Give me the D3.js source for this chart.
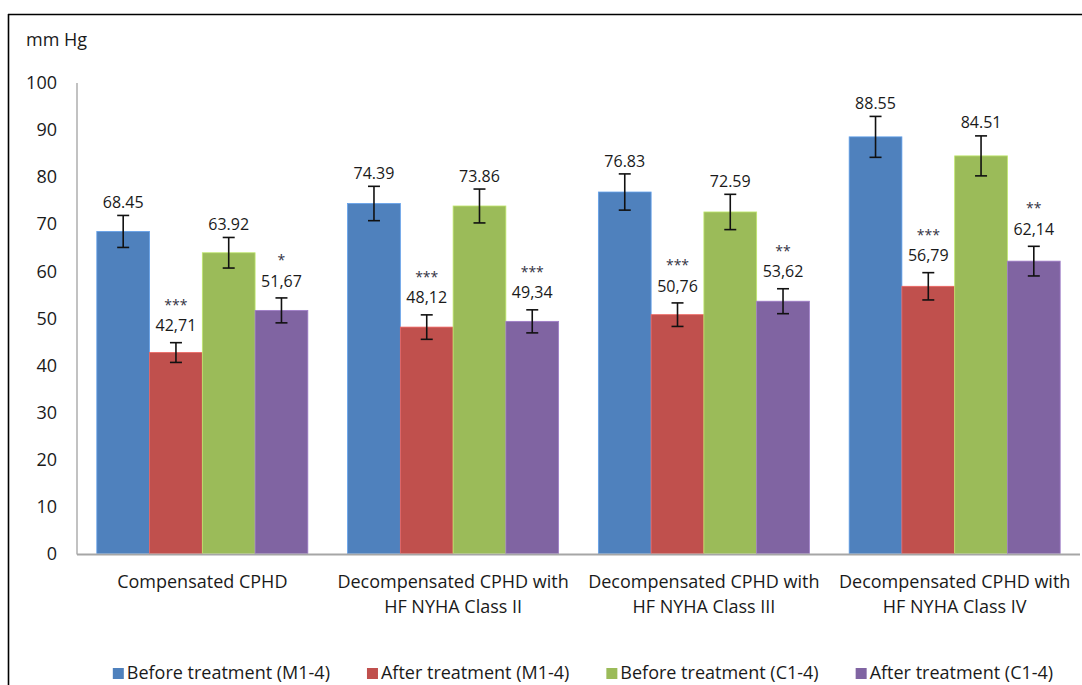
<!DOCTYPE html>
<html><head><meta charset="utf-8">
<script src="https://cdn.jsdelivr.net/npm/d3@7"></script>
<style>
body{margin:0;background:#fff;}
text{font-family:"Open Sans",sans-serif;}
</style></head>
<body><svg id="c" width="1082" height="685"></svg>
<script>
const categories = [
  ["Compensated CPHD"],
  ["Decompensated CPHD with","HF NYHA Class II"],
  ["Decompensated CPHD with","HF NYHA Class III"],
  ["Decompensated CPHD with","HF NYHA Class IV"]
];
const seriesNames = ["Before treatment (M1-4)","After treatment (M1-4)","Before treatment (C1-4)","After treatment (C1-4)"];
const seriesColors = ["#4F81BD","#C0504D","#9BBB59","#8064A2"];
const beforeM = [68.45, 74.39, 76.83, 88.55];
const afterM  = [42.71, 48.12, 50.76, 56.79];
const beforeC = [63.92, 73.86, 72.59, 84.51];
const afterC  = [51.67, 49.34, 53.62, 62.14];
const errBeforeM = [3.4, 3.65, 3.85, 4.35];
const errAfterM  = [2.1, 2.6, 2.5, 2.9];
const errBeforeC = [3.25, 3.6, 3.75, 4.25];
const errAfterC  = [2.65, 2.45, 2.65, 3.15];
const starsAfterM = ["***","***","***","***"];
const starsAfterC = ["*","***","**","**"];
const yTicks = [0,10,20,30,40,50,60,70,80,90,100];
const yUnit = "mm Hg";

const series = [
  {name:seriesNames[0], color:seriesColors[0], values:beforeM, err:errBeforeM, stars:null, sep:"."},
  {name:seriesNames[1], color:seriesColors[1], values:afterM, err:errAfterM, stars:starsAfterM, sep:","},
  {name:seriesNames[2], color:seriesColors[2], values:beforeC, err:errBeforeC, stars:null, sep:"."},
  {name:seriesNames[3], color:seriesColors[3], values:afterC, err:errAfterC, stars:starsAfterC, sep:","}
];

const svg = d3.select("#c");
const FS = 18, FSV = 16, FSS = 14;
const pL = 77, pR = 1080, pT = 83, pB = 553.5;

// frame
svg.append("line").attr("x1",8).attr("x2",1082).attr("y1",14.5).attr("y2",14.5).attr("stroke","#000").attr("stroke-width",1.6);
svg.append("line").attr("x1",8.5).attr("x2",8.5).attr("y1",14).attr("y2",685).attr("stroke","#000").attr("stroke-width",1.6);

const x0 = d3.scaleBand().domain(d3.range(categories.length)).range([pL,pR]).paddingInner(0.1585).paddingOuter(0.079);
const x1 = d3.scaleBand().domain(d3.range(series.length)).range([0,x0.bandwidth()]);
const y = d3.scaleLinear().domain([0,100]).range([pB,pT]);

// y axis labels
svg.append("g").selectAll("text").data(yTicks).join("text")
  .attr("x",57).attr("y",d=>y(d)).attr("dy","0.35em").attr("text-anchor","end")
  .attr("font-size",FS).attr("fill","#1a1a1a").text(d=>d);
svg.append("text").attr("x",26).attr("y",46).attr("font-size",FS).attr("fill","#1a1a1a").text(yUnit);

// bars
const groups = svg.append("g").selectAll("g").data(categories).join("g")
  .attr("transform",(d,i)=>`translate(${x0(i)},0)`);
groups.each(function(cat,ci){
  const g = d3.select(this);
  series.forEach((s,si)=>{
    const v = s.values[ci], e = s.err[ci];
    const bx = x1(si), bw = x1.bandwidth(), cx = bx + bw/2;
    g.append("rect").attr("x",bx).attr("y",y(v)).attr("width",bw).attr("height",y(0)-y(v))
      .attr("fill",s.color).attr("stroke",d3.color(s.color).brighter(0.6)).attr("stroke-width",0.8);
    const yt = y(v+e), yb = y(v-e);
    g.append("line").attr("x1",cx).attr("x2",cx).attr("y1",yt).attr("y2",yb).attr("stroke","#111").attr("stroke-width",1.6);
    g.append("line").attr("x1",cx-6).attr("x2",cx+6).attr("y1",yt).attr("y2",yt).attr("stroke","#111").attr("stroke-width",1.6);
    g.append("line").attr("x1",cx-6).attr("x2",cx+6).attr("y1",yb).attr("y2",yb).attr("stroke","#111").attr("stroke-width",1.6);
    const lab = v.toFixed(2).replace(".", s.sep);
    const ly = yt - (s.stars ? 17 : 13);
    g.append("text").attr("x",cx).attr("y",ly).attr("dy","0.35em").attr("text-anchor","middle")
      .attr("font-size",FSV).attr("fill","#1a1a1a").text(lab);
    if (s.stars) {
      g.append("text").attr("x",cx).attr("y",ly-16).attr("text-anchor","middle")
        .attr("font-size",FSS).attr("fill","#334").text(s.stars[ci]);
    }
  });
});

// axes lines
svg.append("line").attr("x1",pL).attr("x2",pL).attr("y1",pT).attr("y2",pB+1).attr("stroke","#999").attr("stroke-width",1.2);
svg.append("line").attr("x1",pL).attr("x2",pR).attr("y1",pB+1).attr("y2",pB+1).attr("stroke","#a6a6a6").attr("stroke-width",2);

// category labels
const cl = svg.append("g").selectAll("text").data(categories).join("text")
  .attr("text-anchor","middle").attr("font-size",FS).attr("fill","#1a1a1a");
cl.each(function(lines,i){
  const t = d3.select(this);
  lines.forEach((ln,k)=>{
    t.append("tspan").attr("x",x0(i)+x0.bandwidth()/2).attr("y",582+k*25).attr("dy","0.35em").text(ln);
  });
});

// legend
const lg = svg.append("g");
const items = lg.selectAll("g").data(series).join("g");
items.append("rect").attr("width",11).attr("height",11).attr("y",668).attr("fill",d=>d.color);
items.append("text").attr("x",14).attr("y",673).attr("dy","0.35em").attr("font-size",FS).attr("fill","#1a1a1a").text(d=>d.name);
const widths = [];
items.each(function(){ widths.push(this.querySelector("text").getComputedTextLength()+14); });
const gap = 37;
const total = d3.sum(widths) + gap*(widths.length-1);
let lx = 583 - total/2;
items.each(function(d,i){ d3.select(this).attr("transform",`translate(${lx},0)`); lx += widths[i]+gap; });
</script></body></html>
